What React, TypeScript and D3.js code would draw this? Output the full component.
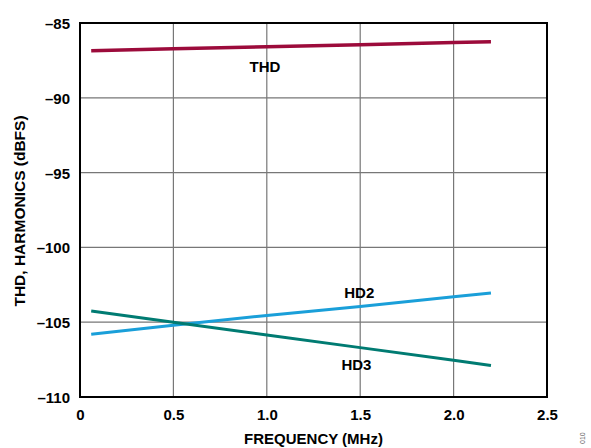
import { axisBottom, axisLeft, line, scaleLinear, select } from "d3"
import { useEffect, useRef } from "react"

const freq = [0.06, 0.5, 1.0, 1.5, 2.0, 2.2]
const thd = [-86.85, -86.72, -86.58, -86.45, -86.3, -86.25]
const hd2 = [-105.8, -105.2, -104.55, -103.95, -103.3, -103.05]
const hd3 = [-104.25, -105.0, -105.85, -106.7, -107.55, -107.9]

const xTicks = [0, 0.5, 1.0, 1.5, 2.0, 2.5]
const yTicks = [-85, -90, -95, -100, -105, -110]

const seriesNames = ["THD", "HD2", "HD3"]
const seriesColors = { THD: "#9c0b3b", HD2: "#1a9fd9", HD3: "#007b72" }

const W = 591
const H = 448
const m = { left: 80, right: 44, top: 23, bottom: 51 }
const font = "Liberation Sans, Arial, sans-serif"

const fmt = (v: number) => (v < 0 ? "\u2013" + Math.abs(v) : v === 0 ? "0" : v.toFixed(1))

const App = () => {
    const ref = useRef<SVGSVGElement>(null)

    useEffect(() => {
        const svg = select(ref.current)
        svg.selectAll("*").remove()
        const width = W - m.left - m.right
        const height = H - m.top - m.bottom

        const x = scaleLinear().domain([0, 2.5]).range([0, width])
        const y = scaleLinear().domain([-110, -85]).range([height, 0])

        const g = svg.append("g").attr("transform", `translate(${m.left},${m.top})`)

        // grid
        g.append("g").selectAll("line")
            .data(xTicks.slice(1, -1))
            .join("line")
            .attr("x1", d => x(d)).attr("x2", d => x(d))
            .attr("y1", 0).attr("y2", height)
            .attr("stroke", "#777").attr("stroke-width", 1.2)
        g.append("g").selectAll("line")
            .data(yTicks.slice(1, -1))
            .join("line")
            .attr("y1", d => y(d)).attr("y2", d => y(d))
            .attr("x1", 0).attr("x2", width)
            .attr("stroke", "#777").attr("stroke-width", 1.2)

        const data = { THD: thd, HD2: hd2, HD3: hd3 }
        const path = line<number>().x((_, i) => x(freq[i])).y(d => y(d))
        g.append("g").selectAll("path")
            .data(seriesNames)
            .join("path")
            .attr("d", k => path(data[k]))
            .attr("fill", "none")
            .attr("stroke", k => seriesColors[k])
            .attr("stroke-width", k => (k === "THD" ? 3.5 : 3))

        g.append("rect")
            .attr("width", width).attr("height", height)
            .attr("fill", "none").attr("stroke", "#000").attr("stroke-width", 2)

        const xAxis = g.append("g").attr("transform", `translate(0,${height})`)
            .call(axisBottom(x).tickValues(xTicks).tickSize(0).tickPadding(9).tickFormat(fmt))
        const yAxis = g.append("g")
            .call(axisLeft(y).tickValues(yTicks).tickSize(0).tickPadding(10).tickFormat(fmt))
        for (const a of [xAxis, yAxis]) {
            a.select(".domain").remove()
            a.selectAll("text")
                .attr("font-family", font)
                .attr("font-weight", "bold")
                .attr("font-size", 15)
                .attr("fill", "#000")
        }
        xAxis.selectAll("text").attr("dy", "0.9em")
        yAxis.selectAll("text").attr("dy", "0.36em")

        const labels = [
            { t: "THD", fx: 0.99, v: -88.3 },
            { t: "HD2", fx: 1.495, v: -103.4 },
            { t: "HD3", fx: 1.48, v: -108.2 },
        ]
        g.append("g").selectAll("text")
            .data(labels)
            .join("text")
            .attr("x", d => x(d.fx)).attr("y", d => y(d.v))
            .attr("text-anchor", "middle")
            .attr("font-family", font)
            .attr("font-weight", "bold").attr("font-size", 15)
            .text(d => d.t)

        svg.append("text")
            .attr("x", m.left + width / 2).attr("y", 444)
            .attr("text-anchor", "middle")
            .attr("font-family", font)
            .attr("font-weight", "bold").attr("font-size", 15)
            .text("FREQUENCY (MHz)")

        svg.append("text")
            .attr("transform", `translate(25,211) rotate(-90)`)
            .attr("text-anchor", "middle")
            .attr("font-family", font)
            .attr("font-weight", "bold").attr("font-size", 15.5)
            .text("THD, HARMONICS (dBFS)")

        svg.append("text")
            .attr("transform", "translate(585,444) rotate(-90)")
            .attr("text-anchor", "start")
            .attr("font-family", font)
            .attr("font-size", 7).attr("fill", "#666")
            .text("010")
    }, [])

    return (
        <svg ref={ref} width={W} height={H}
            style={{ position: "absolute", left: 0, top: 0, background: "#fff" }} />
    )
}

export default App
